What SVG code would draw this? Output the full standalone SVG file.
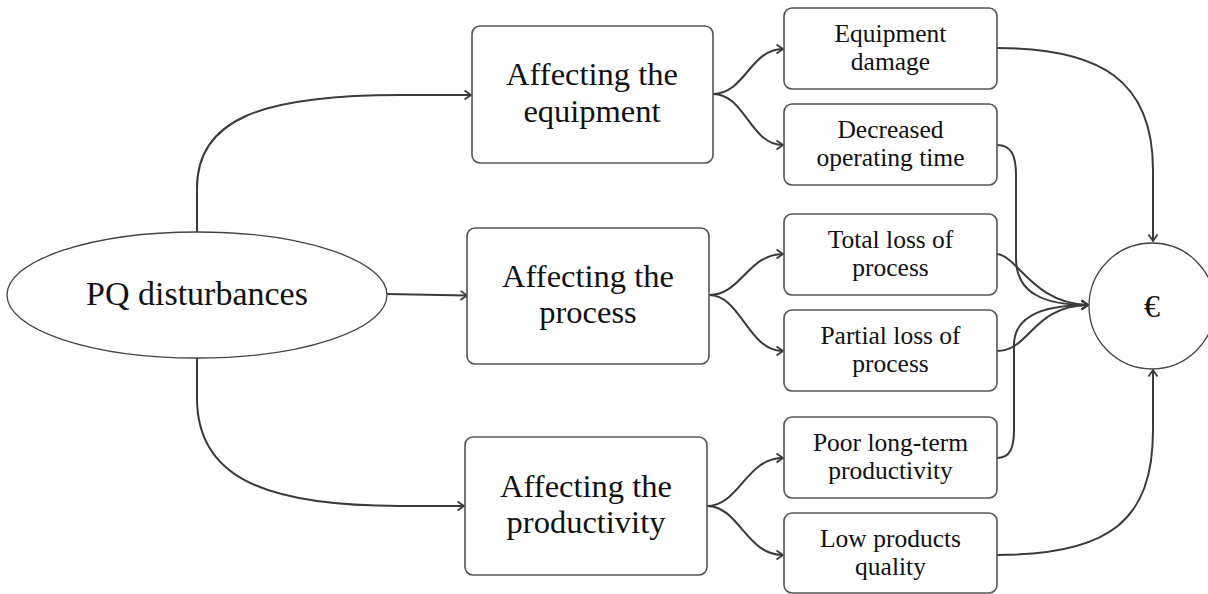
<svg xmlns="http://www.w3.org/2000/svg" width="1208" height="594" viewBox="0 0 1208 594">
<defs>
<marker id="arr" markerUnits="userSpaceOnUse" markerWidth="12" markerHeight="12" refX="8" refY="6" orient="auto">
<path d="M1.5,1.5 L8,6 L1.5,10.5" fill="none" stroke="#3a3a3a" stroke-width="1.8"/>
</marker>
</defs>
<style>
.box{fill:#fff;stroke:#555;stroke-width:1.6}
.el{fill:#fff;stroke:#444;stroke-width:1.3}
.big{font-family:"Liberation Serif",serif;font-size:32.5px;fill:#111;text-anchor:middle}
.sm{font-family:"Liberation Serif",serif;font-size:25.5px;fill:#111;text-anchor:middle}
.c{fill:none;stroke:#3a3a3a;stroke-width:2;marker-end:url(#arr)}
</style>
<rect width="1208" height="594" fill="#fff"/>
<g id="connectors">
<path class="c" d="M197,232 V188 C197,120 260,95 400,95 H471"/>
<path class="c" d="M387,294 L467,295.5"/>
<path class="c" d="M197,358 V398 C197,475 260,506 400,506 H464"/>
<path class="c" d="M713,94 C745,94 750,49 783,49"/>
<path class="c" d="M713,94 C745,94 750,145 783,145"/>
<path class="c" d="M709,295 C741,295 748,254 783,254"/>
<path class="c" d="M709,295 C741,295 748,351 783,351"/>
<path class="c" d="M707,506 C739,506 746,458 783,458"/>
<path class="c" d="M707,506 C739,506 746,555 783,555"/>
<path class="c" d="M997,48 C1100,48 1153,80 1153,170 V241"/>
<path class="c" d="M997,145 C1011,145 1016,155 1016,175 V258 C1016,294 1045,305 1088,305"/>
<path class="c" d="M997,254 C1018,256 1032,303 1088,305"/>
<path class="c" d="M997,351 C1030,351 1032,306 1088,305"/>
<path class="c" d="M997,458 C1010,458 1014,448 1014,430 V345 C1014,315 1045,305 1088,305"/>
<path class="c" d="M997,555 C1110,555 1153,520 1153,430 V370"/>
</g>
<g id="pq">
<ellipse class="el" cx="197" cy="295" rx="190" ry="63"/>
<text class="big" x="197" y="305" style="font-size:34px">PQ disturbances</text>
</g>
<g id="aff-equipment">
<rect class="box" x="472" y="26" width="241" height="137" rx="8"/>
<text class="big" x="592" y="85">Affecting the</text>
<text class="big" x="592" y="122">equipment</text>
</g>
<g id="aff-process">
<rect class="box" x="467" y="228" width="242" height="136" rx="8"/>
<text class="big" x="588" y="287">Affecting the</text>
<text class="big" x="588" y="323">process</text>
</g>
<g id="aff-productivity">
<rect class="box" x="465" y="437" width="242" height="138" rx="8"/>
<text class="big" x="586" y="497">Affecting the</text>
<text class="big" x="586" y="533">productivity</text>
</g>
<g id="equipment-damage">
<rect class="box" x="784" y="8" width="213" height="81" rx="8"/>
<text class="sm" x="890.5" y="42">Equipment</text>
<text class="sm" x="890.5" y="70">damage</text>
</g>
<g id="decreased-time">
<rect class="box" x="784" y="104" width="213" height="81" rx="8"/>
<text class="sm" x="890.5" y="138">Decreased</text>
<text class="sm" x="890.5" y="166">operating time</text>
</g>
<g id="total-loss">
<rect class="box" x="784" y="214" width="213" height="81" rx="8"/>
<text class="sm" x="890.5" y="248">Total loss of</text>
<text class="sm" x="890.5" y="276">process</text>
</g>
<g id="partial-loss">
<rect class="box" x="784" y="310" width="213" height="81" rx="8"/>
<text class="sm" x="890.5" y="344">Partial loss of</text>
<text class="sm" x="890.5" y="372">process</text>
</g>
<g id="poor-productivity">
<rect class="box" x="784" y="417" width="213" height="81" rx="8"/>
<text class="sm" x="890.5" y="451">Poor long-term</text>
<text class="sm" x="890.5" y="479">productivity</text>
</g>
<g id="low-quality">
<rect class="box" x="784" y="513" width="213" height="80" rx="8"/>
<text class="sm" x="890.5" y="547">Low products</text>
<text class="sm" x="890.5" y="575">quality</text>
</g>
<g id="euro">
<circle class="el" cx="1152" cy="306" r="63"/>
<text class="big" x="1152" y="317" style="font-size:32px">€</text>
</g>
</svg>
